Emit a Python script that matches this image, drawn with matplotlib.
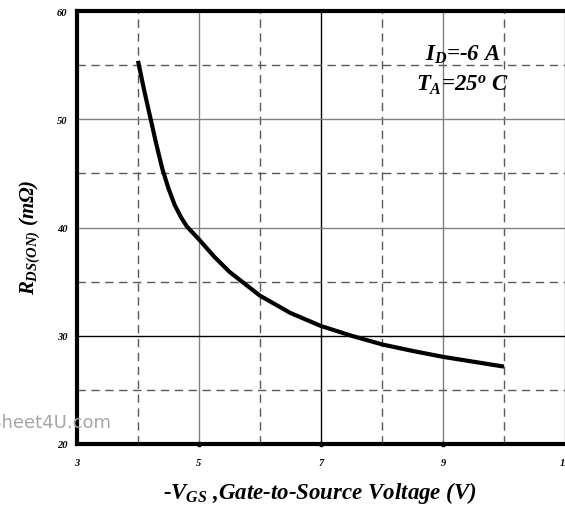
import matplotlib.pyplot as plt
from matplotlib.ticker import MultipleLocator

vgs = [4.0, 4.1, 4.2, 4.3, 4.4, 4.5, 4.6, 4.7, 4.8, 4.9, 5.0, 5.25, 5.5, 5.75,
       6.0, 6.25, 6.5, 6.75, 7.0, 7.5, 8.0, 8.5, 9.0, 9.5, 10.0]
rds = [55.4, 52.7, 50.2, 47.7, 45.4, 43.6, 42.1, 41.0, 40.1, 39.5, 38.9, 37.3, 35.9, 34.8,
       33.7, 32.9, 32.1, 31.5, 30.9, 30.0, 29.2, 28.6, 28.05, 27.6, 27.15]

x_ticks = [3, 5, 7, 9, 11]
y_ticks = [20, 30, 40, 50, 60]

serif = "Liberation Serif"
plt.rcParams["mathtext.fontset"] = "custom"
plt.rcParams["mathtext.rm"] = "Liberation Serif:bold:italic"
plt.rcParams["mathtext.it"] = "Liberation Serif:bold:italic"
plt.rcParams["mathtext.bf"] = "Liberation Serif:bold:italic"

fig = plt.figure(figsize=(5.65, 5.06), dpi=100)
ax = fig.add_axes([77 / 565, 1 - 445 / 506, 1 - 77 / 565, (445 - 12) / 506])

ax.plot(vgs, rds, color="black", lw=3, solid_joinstyle="round", solid_capstyle="butt")

ax.set_xlim(3, 11)
ax.set_ylim(20, 60)
ax.set_xticks(x_ticks)
ax.set_yticks(y_ticks)
ax.xaxis.set_minor_locator(MultipleLocator(1))
ax.yaxis.set_minor_locator(MultipleLocator(5))
ax.tick_params(which="both", length=0)
ax.tick_params(axis="x", pad=10)
ax.tick_params(axis="y", pad=7)
for lab in ax.get_xticklabels() + ax.get_yticklabels():
    lab.set_fontfamily(serif)
    lab.set_fontweight("bold")
    lab.set_fontstyle("italic")
    lab.set_fontsize(7.5)

ax.grid(which="major", color="0.5", lw=1, ls="-")
ax.grid(which="minor", color="0.35", lw=1, ls=(0, (6, 4)))
for i, g in enumerate(ax.yaxis.get_gridlines()):
    if y_ticks[i] == 30:
        g.set_color("black")
for i, g in enumerate(ax.xaxis.get_gridlines()):
    if x_ticks[i] == 7:
        g.set_color("black")

# small dots on the x axis at the major ticks
ax.plot(x_ticks[1:4], [20] * 3, "o", color="black", ms=3, clip_on=False, zorder=5)

for s in ["left", "bottom", "top"]:
    ax.spines[s].set_linewidth(3)
ax.spines["right"].set_visible(False)

ax.set_xlabel(r"-$V_{GS}$ ,Gate-to-Source Voltage (V)", fontfamily=serif,
              fontweight="bold", fontstyle="italic", fontsize=16.5)
ax.xaxis.set_label_coords((320 - 77) / 488, -(493 - 445) / 433)
ax.set_ylabel(r"$R_{DS(ON)}$ (m$\Omega$)", fontfamily=serif,
              fontweight="bold", fontstyle="italic", fontsize=15)
ax.yaxis.set_label_coords(-(77 - 30) / 488, (445 - 237) / 433)
ax.xaxis.label.set_va("center")
ax.yaxis.label.set_va("center")

ax.text(0.79, 0.90, r"$I_D$=-6 A", transform=ax.transAxes, ha="center", va="center",
        fontfamily=serif, fontweight="bold", fontstyle="italic", fontsize=16.5)
ax.text(0.79, 0.83, r"$T_A$=25$^o$ C", transform=ax.transAxes, ha="center", va="center",
        fontfamily=serif, fontweight="bold", fontstyle="italic", fontsize=16.5)

fig.text(111 / 565, 1 - 423 / 506, "DataSheet4U.com", ha="right", va="center",
         color="0.65", fontsize=13, fontfamily="DejaVu Sans")

fig.savefig("out.png", dpi=100)
